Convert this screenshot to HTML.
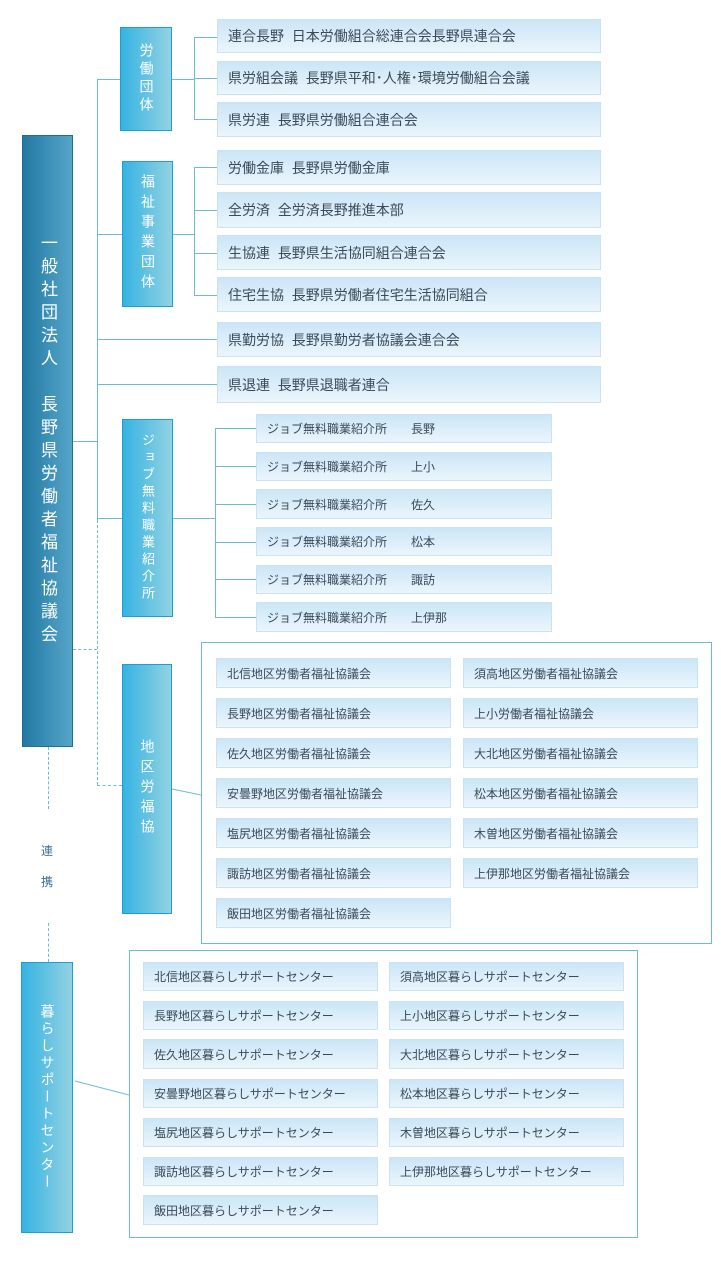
<!DOCTYPE html>
<html><head><meta charset="utf-8"><style>
body{margin:0;width:721px;height:1261px;background:#fff;position:relative;font-family:"Liberation Sans","Noto Sans CJK JP",sans-serif;overflow:hidden}
div{position:absolute;box-sizing:border-box}
.main{background:linear-gradient(to right,#2279a3,#56a5c9);border:1px solid #1d6f96;color:#fff;font-size:17px;line-height:23px;text-align:center;writing-mode:vertical-rl;display:flex;align-items:center;justify-content:center;letter-spacing:6px}
.br{background:linear-gradient(to right,#36b3e2,#92d2e2);border:1px solid #1d9ed6;color:#fff;font-size:14px;line-height:17px;writing-mode:vertical-rl;display:flex;align-items:center;justify-content:center;letter-spacing:4px}
.it{background:linear-gradient(to bottom,#cbe6f7,#eaf5fc);border:1px solid #c9e3f2;color:#3b4a5a;font-size:14px;display:flex;align-items:center;padding-left:10px;white-space:nowrap}
.s{font-size:12px}
.h{height:1px;background:#6cbcd6}
.v{width:1px;background:#6cbcd6}
.box{border:1px solid #6cbcd6}
.dv{width:0;border-left:1px dashed #6cbcd6}
.dh{height:0;border-top:1px dashed #6cbcd6}
</style></head><body>
<div class="main" style="left:22px;top:135px;width:51px;height:612px">一般社団法人　長野県労働者福祉協議会</div>
<div class="v" style="left:97px;top:79px;height:441px"></div>
<div class="dv" style="left:97px;top:520px;height:265px"></div>
<div class="h" style="left:73px;top:441px;width:24px"></div>
<div class="dh" style="left:73px;top:649px;width:24px"></div>
<div class="dv" style="left:48px;top:747px;height:62px"></div>
<div style="left:41px;top:842px;font-size:12px;color:#3a6d9a">連</div>
<div style="left:41px;top:873px;font-size:12px;color:#3a6d9a">携</div>
<div class="dv" style="left:48px;top:923px;height:39px"></div>

<div class="h" style="left:97px;top:79px;width:24px"></div>
<div class="br" style="left:120px;top:27px;width:52px;height:104px">労働団体</div>
<div class="h" style="left:172px;top:79px;width:22px"></div>
<div class="v" style="left:194px;top:37px;height:83px"></div>
<div class="h" style="left:194px;top:37px;width:23px"></div>
<div class="h" style="left:194px;top:78px;width:23px"></div>
<div class="h" style="left:194px;top:119px;width:23px"></div>
<div class="it" style="left:217px;top:19px;width:384px;height:34px">連合長野&nbsp;&nbsp;日本労働組合総連合会長野県連合会</div>
<div class="it" style="left:217px;top:61px;width:384px;height:34px">県労組会議&nbsp;&nbsp;長野県平和･人権･環境労働組合会議</div>
<div class="it" style="left:217px;top:102px;width:384px;height:35px">県労連&nbsp;&nbsp;長野県労働組合連合会</div>

<div class="h" style="left:97px;top:234px;width:25px"></div>
<div class="br" style="left:122px;top:161px;width:51px;height:146px;letter-spacing:6px">福祉事業団体</div>
<div class="h" style="left:173px;top:234px;width:21px"></div>
<div class="v" style="left:194px;top:167px;height:128px"></div>
<div class="h" style="left:194px;top:167px;width:23px"></div>
<div class="h" style="left:194px;top:210px;width:23px"></div>
<div class="h" style="left:194px;top:253px;width:23px"></div>
<div class="h" style="left:194px;top:295px;width:23px"></div>
<div class="it" style="left:217px;top:150px;width:384px;height:35px">労働金庫&nbsp;&nbsp;長野県労働金庫</div>
<div class="it" style="left:217px;top:192px;width:384px;height:36px">全労済&nbsp;&nbsp;全労済長野推進本部</div>
<div class="it" style="left:217px;top:235px;width:384px;height:35px">生協連&nbsp;&nbsp;長野県生活協同組合連合会</div>
<div class="it" style="left:217px;top:277px;width:384px;height:35px">住宅生協&nbsp;&nbsp;長野県労働者住宅生活協同組合</div>

<div class="h" style="left:97px;top:339px;width:120px"></div>
<div class="it" style="left:217px;top:322px;width:384px;height:35px">県勤労協&nbsp;&nbsp;長野県勤労者協議会連合会</div>
<div class="h" style="left:97px;top:384px;width:120px"></div>
<div class="it" style="left:217px;top:366px;width:384px;height:37px">県退連&nbsp;&nbsp;長野県退職者連合</div>

<div class="h" style="left:97px;top:518px;width:25px"></div>
<div class="br" style="left:122px;top:419px;width:51px;height:198px;font-size:13px;line-height:15px;letter-spacing:4px">ジョブ無料職業紹介所</div>
<div class="h" style="left:173px;top:518px;width:42px"></div>
<div class="v" style="left:215px;top:428px;height:190px"></div>
<div class="h" style="left:215px;top:428px;width:41px"></div>
<div class="h" style="left:215px;top:466px;width:41px"></div>
<div class="h" style="left:215px;top:504px;width:41px"></div>
<div class="h" style="left:215px;top:542px;width:41px"></div>
<div class="h" style="left:215px;top:579px;width:41px"></div>
<div class="h" style="left:215px;top:617px;width:41px"></div>
<div class="it s" style="left:256px;top:414px;width:296px;height:29px">ジョブ無料職業紹介所　　長野</div>
<div class="it s" style="left:256px;top:452px;width:296px;height:29px">ジョブ無料職業紹介所　　上小</div>
<div class="it s" style="left:256px;top:489px;width:296px;height:30px">ジョブ無料職業紹介所　　佐久</div>
<div class="it s" style="left:256px;top:527px;width:296px;height:29px">ジョブ無料職業紹介所　　松本</div>
<div class="it s" style="left:256px;top:565px;width:296px;height:29px">ジョブ無料職業紹介所　　諏訪</div>
<div class="it s" style="left:256px;top:602px;width:296px;height:30px">ジョブ無料職業紹介所　　上伊那</div>

<div class="dh" style="left:97px;top:785px;width:25px"></div>
<div class="br" style="left:122px;top:664px;width:50px;height:250px;letter-spacing:6px">地区労福協</div>
<svg style="position:absolute;left:0;top:0" width="721" height="1261"><line x1="172" y1="789" x2="201" y2="795" stroke="#6cbcd6"/><line x1="75" y1="1081" x2="129" y2="1095" stroke="#6cbcd6"/></svg>
<div class="box" style="left:201px;top:642px;width:511px;height:302px"></div>
<div class="it s" style="left:216px;top:658px;width:235px;height:30px">北信地区労働者福祉協議会</div>
<div class="it s" style="left:216px;top:698px;width:235px;height:30px">長野地区労働者福祉協議会</div>
<div class="it s" style="left:216px;top:738px;width:235px;height:30px">佐久地区労働者福祉協議会</div>
<div class="it s" style="left:216px;top:778px;width:235px;height:30px">安曇野地区労働者福祉協議会</div>
<div class="it s" style="left:216px;top:818px;width:235px;height:30px">塩尻地区労働者福祉協議会</div>
<div class="it s" style="left:216px;top:858px;width:235px;height:30px">諏訪地区労働者福祉協議会</div>
<div class="it s" style="left:216px;top:898px;width:235px;height:30px">飯田地区労働者福祉協議会</div>
<div class="it s" style="left:463px;top:658px;width:235px;height:30px">須高地区労働者福祉協議会</div>
<div class="it s" style="left:463px;top:698px;width:235px;height:30px">上小労働者福祉協議会</div>
<div class="it s" style="left:463px;top:738px;width:235px;height:30px">大北地区労働者福祉協議会</div>
<div class="it s" style="left:463px;top:778px;width:235px;height:30px">松本地区労働者福祉協議会</div>
<div class="it s" style="left:463px;top:818px;width:235px;height:30px">木曽地区労働者福祉協議会</div>
<div class="it s" style="left:463px;top:858px;width:235px;height:30px">上伊那地区労働者福祉協議会</div>

<div class="br" style="left:21px;top:962px;width:52px;height:271px;letter-spacing:3px">暮らしサポートセンター</div>
<div class="box" style="left:129px;top:950px;width:509px;height:288px"></div>
<div class="it s" style="left:143px;top:962px;width:235px;height:29px">北信地区暮らしサポートセンター</div>
<div class="it s" style="left:143px;top:1001px;width:235px;height:29px">長野地区暮らしサポートセンター</div>
<div class="it s" style="left:143px;top:1039px;width:235px;height:30px">佐久地区暮らしサポートセンター</div>
<div class="it s" style="left:143px;top:1079px;width:235px;height:29px">安曇野地区暮らしサポートセンター</div>
<div class="it s" style="left:143px;top:1118px;width:235px;height:29px">塩尻地区暮らしサポートセンター</div>
<div class="it s" style="left:143px;top:1157px;width:235px;height:29px">諏訪地区暮らしサポートセンター</div>
<div class="it s" style="left:143px;top:1195px;width:235px;height:30px">飯田地区暮らしサポートセンター</div>
<div class="it s" style="left:389px;top:962px;width:235px;height:29px">須高地区暮らしサポートセンター</div>
<div class="it s" style="left:389px;top:1001px;width:235px;height:29px">上小地区暮らしサポートセンター</div>
<div class="it s" style="left:389px;top:1039px;width:235px;height:30px">大北地区暮らしサポートセンター</div>
<div class="it s" style="left:389px;top:1079px;width:235px;height:29px">松本地区暮らしサポートセンター</div>
<div class="it s" style="left:389px;top:1118px;width:235px;height:29px">木曽地区暮らしサポートセンター</div>
<div class="it s" style="left:389px;top:1157px;width:235px;height:29px">上伊那地区暮らしサポートセンター</div>
</body></html>
